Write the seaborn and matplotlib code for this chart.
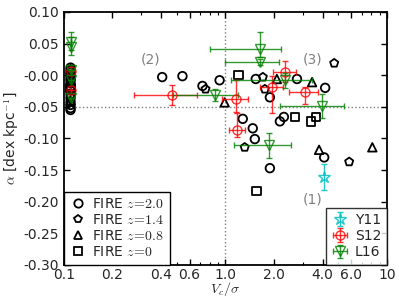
import numpy as np
import pandas as pd
import matplotlib
matplotlib.use("Agg")
import matplotlib.pyplot as plt
from matplotlib.lines import Line2D
from matplotlib.ticker import NullFormatter, FormatStrFormatter
import seaborn as sns

# FIRE simulations (V_c/sigma, alpha)
z20_x = [0.406, 0.542, 0.721, 0.920, 1.541, 1.884, 2.773, 4.141, 1.280, 1.476, 1.520, 2.173, 2.300, 4.083, 1.884,
         0.11, 0.11, 0.11, 0.11, 0.11, 0.11, 0.11, 0.11, 0.11, 0.11, 0.11, 0.11, 0.11, 0.11, 0.11]
z20_y = [-0.003, -0.0015, -0.017, -0.008, -0.006, -0.035, -0.006, -0.020, -0.069, -0.084, -0.101, -0.073, -0.066, -0.130, -0.147,
         0.012, 0.008, 0.004, 0.0, -0.004, -0.008, -0.013, -0.018, -0.024, -0.030, -0.036, -0.042, -0.047, -0.052, -0.055]
z14_x = [0.753, 1.704, 1.754, 4.71, 5.83, 1.316, 0.11]
z14_y = [-0.022, -0.003, -0.022, 0.019, -0.137, -0.114, -0.010]
z08_x = [0.989, 2.081, 3.437, 3.798, 8.11, 0.11, 0.11]
z08_y = [-0.043, -0.006, -0.011, -0.118, -0.114, 0.010, -0.040]
z00_x = [1.208, 2.692, 3.390, 3.639, 1.563, 0.11]
z00_y = [0.000, -0.066, -0.073, -0.066, -0.183, -0.020]

# Y11
y11_x = [4.08]
y11_y = [-0.161]
y11_yerr = [0.020]

# S12
s12_x = [0.470, 1.157, 1.174, 2.333, 1.938, 3.110, 0.11, 0.11]
s12_y = [-0.0315, -0.038, -0.087, 0.005, -0.019, -0.027, 0.006, -0.024]
s12_xlo = [0.198, 0.21, 0.127, 0.367, 0.305, 0.64, 0.0, 0.0]
s12_xhi = [0.201, 0.217, 0.142, 0.397, 0.33, 0.63, 0.0, 0.0]
s12_ylo = [0.016, 0.020, 0.010, 0.016, 0.041, 0.019, 0.0, 0.0]
s12_yhi = [0.016, 0.030, 0.028, 0.017, 0.018, 0.009, 0.0, 0.0]

# L16
l16_x = [1.633, 1.633, 2.333, 0.857, 3.963, 1.857, 0.11, 0.11, 0.11, 0.11, 0.11]
l16_y = [0.041, 0.021, -0.008, -0.0315, -0.049, -0.1105, 0.052, 0.044, 0.008, -0.008, -0.036]
l16_xlo = [0.835, 0.644, 1.256, 0.381, 1.79, 0.732, 0, 0, 0, 0, 0]
l16_xhi = [0.57, 0.508, 1.104, 0.334, 1.47, 0.684, 0, 0, 0, 0, 0]
l16_ylo = [0.012, 0.005, 0.012, 0.009, 0.019, 0.020, 0.012, 0.012, 0, 0, 0]
l16_yhi = [0.028, 0.005, 0.011, 0.009, 0.019, 0.019, 0.017, 0.017, 0, 0, 0]

xticks = [0.1, 0.2, 0.4, 0.6, 1.0, 2.0, 4.0, 6.0, 10]
xticklabels = ["0.1", "0.2", "0.4", "0.6", "1.0", "2.0", "4.0", "6.0", "10"]

sns.set_style("ticks", {"xtick.direction": "in", "ytick.direction": "in"})
plt.rcParams["font.family"] = ["DejaVu Sans"]
plt.rcParams["mathtext.fontset"] = "cm"

fig = plt.figure(figsize=(3.99, 2.99), dpi=100)
ax = fig.add_axes([0.160, 0.114, 0.810, 0.846])
ax.set_xscale("log")

ax.axvline(1.0, color="0.5", ls=":", lw=1, zorder=0)
ax.axhline(-0.05, color="0.5", ls=":", lw=1, zorder=0)

fire = [(z20_x, z20_y, "o", r"FIRE $z\!=\!2.0$"),
        (z14_x, z14_y, "p", r"FIRE $z\!=\!1.4$"),
        (z08_x, z08_y, "^", r"FIRE $z\!=\!0.8$"),
        (z00_x, z00_y, "s", r"FIRE $z\!=\!0$")]
fire_handles = []
for xs, ys, m, lab in fire:
    d = pd.DataFrame({"x": xs, "y": ys})
    sns.scatterplot(data=d, x="x", y="y", marker=m, s=38, facecolor="none",
                    edgecolor="black", linewidth=1.3, ax=ax, zorder=3)
    fire_handles.append(Line2D([], [], marker=m, ls="none", mfc="none", mec="black",
                               mew=1.3, ms=6, label=lab))

h1 = ax.errorbar(y11_x, y11_y, yerr=y11_yerr, fmt="*", color="c", mfc="none", ms=9,
                 mew=1.0, capsize=2.5, elinewidth=1.0, alpha=0.85, label="Y11", zorder=4)
h2 = ax.errorbar(s12_x, s12_y, xerr=[s12_xlo, s12_xhi], yerr=[s12_ylo, s12_yhi], fmt="o",
                 color="red", mfc="none", ms=6.5, mew=1.0, capsize=2.5, elinewidth=1.0,
                 alpha=0.8, label="S12", zorder=4)
h3 = ax.errorbar(l16_x, l16_y, xerr=[l16_xlo, l16_xhi], yerr=[l16_ylo, l16_yhi], fmt="v",
                 color="green", mfc="none", ms=6.5, mew=1.0, capsize=2.5, elinewidth=1.0,
                 alpha=0.8, label="L16", zorder=4)

ax.text(0.342, 0.025, "(2)", color="0.5", fontsize=10, ha="center", va="center")
ax.text(3.44, 0.025, "(3)", color="0.5", fontsize=10, ha="center", va="center")
ax.text(3.44, -0.196, "(1)", color="0.5", fontsize=10, ha="center", va="center")

ax.set_xlim(0.1, 10)
ax.set_ylim(-0.30, 0.10)
ax.set_xticks(xticks)
ax.set_xticklabels(xticklabels)
ax.xaxis.set_minor_formatter(NullFormatter())
ax.set_yticks(np.arange(-0.30, 0.101, 0.05))
ax.yaxis.set_major_formatter(FormatStrFormatter("%.2f"))
ax.tick_params(which="both", top=True, right=True, direction="in", labelsize=10, color="black")
ax.tick_params(which="major", length=4.5, width=1)
ax.tick_params(which="minor", length=2.5, width=0.8)
ax.tick_params(axis="x", pad=2)
for sp in ax.spines.values():
    sp.set_linewidth(1.3)
    sp.set_color("black")

ax.set_xlabel(r"$V_c/\sigma$", fontsize=10, labelpad=-1)
ax.set_ylabel(r"$\alpha$ [dex kpc$^{-1}$]", fontsize=10, labelpad=2)

leg1 = ax.legend(handles=fire_handles, loc="lower left", fontsize=10, frameon=True,
                 fancybox=False, edgecolor="black", borderaxespad=0.0, handlelength=1.2,
                 handletextpad=0.4, labelspacing=0.15, borderpad=0.4)
leg1.get_frame().set_linewidth(1.0)
leg1.get_frame().set_alpha(1)
ax.add_artist(leg1)
leg2 = ax.legend(handles=[h1, h2, h3], loc="lower right", fontsize=10, frameon=True,
                 fancybox=False, edgecolor="black", borderaxespad=0.0, handlelength=1.2,
                 handletextpad=0.5, labelspacing=0.15, borderpad=0.4)
leg2.get_frame().set_linewidth(1.0)

fig.savefig("out.png", dpi=100)
